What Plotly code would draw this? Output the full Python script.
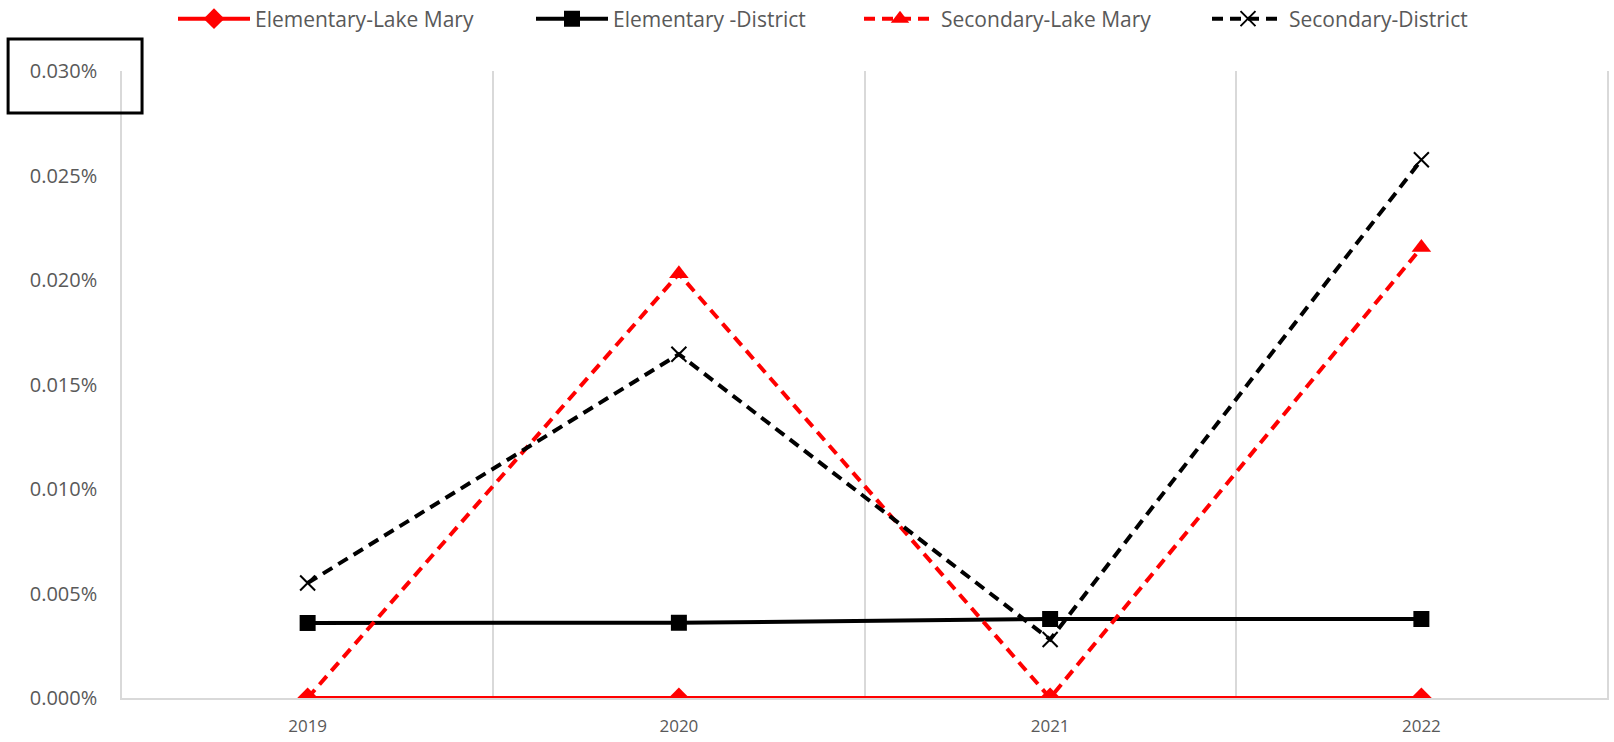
import plotly.graph_objects as go

years = ["2019", "2020", "2021", "2022"]
elem_lake_mary = [0.0, 0.0, 0.0, 0.0]
elem_district = [0.0000359, 0.0000360, 0.0000378, 0.0000378]
sec_lake_mary = [0.0, 0.000203, 0.0, 0.0002155]
sec_district = [0.000055, 0.0001645, 0.000028, 0.0002575]
y_ticks = [0, 0.00005, 0.0001, 0.00015, 0.0002, 0.00025, 0.0003]

RED = "#FF0000"
BLACK = "#000000"
GRID = "#D9D9D9"
TXT = "#595959"
FONT = "Open Sans"

W, H = 1614, 742
legend_px = [173, 531, 859, 1207]

fig = go.Figure()
fig.add_trace(go.Scatter(
    x=years, y=elem_lake_mary, name="Elementary-Lake Mary", mode="lines+markers",
    line=dict(color=RED, width=4), marker=dict(symbol="diamond", size=16, color=RED),
    legend="legend"))
fig.add_trace(go.Scatter(
    x=years, y=elem_district, name="Elementary -District", mode="lines+markers",
    line=dict(color=BLACK, width=4), marker=dict(symbol="square", size=16, color=BLACK),
    legend="legend2"))
fig.add_trace(go.Scatter(
    x=years, y=sec_lake_mary, name="Secondary-Lake Mary", mode="lines+markers",
    line=dict(color=RED, width=4, dash="11px,7px"),
    marker=dict(symbol="triangle-up", size=17, color=RED),
    legend="legend3"))
fig.add_trace(go.Scatter(
    x=years, y=sec_district, name="Secondary-District", mode="lines+markers",
    line=dict(color=BLACK, width=4, dash="11px,7px"),
    marker=dict(symbol="x-thin", size=15, color=BLACK, line=dict(color=BLACK, width=2)),
    legend="legend4"))


def leg(px):
    return dict(
        orientation="h", xref="container", yref="container",
        x=px / W, xanchor="left", y=1 - 19 / H, yanchor="middle",
        font=dict(family=FONT, size=21, color=TXT),
        itemwidth=72, bgcolor="rgba(0,0,0,0)",
    )


fig.update_layout(
    width=W, height=H,
    margin=dict(l=122, r=5, t=71, b=42),
    paper_bgcolor="white", plot_bgcolor="white",
    font=dict(family=FONT, color=TXT),
    showlegend=True,
    legend=leg(legend_px[0]),
    legend2=leg(legend_px[1]),
    legend3=leg(legend_px[2]),
    legend4=leg(legend_px[3]),
    xaxis=dict(
        type="category", range=[-0.5, 3.5],
        tickson="boundaries", showgrid=True, gridcolor=GRID, gridwidth=1.5,
        showline=True, linecolor=GRID, linewidth=1.5,
        ticks="", tickfont=dict(family=FONT, size=17, color=TXT),
        ticklabelstandoff=12, zeroline=False,
    ),
    yaxis=dict(
        range=[0, 0.0003], tickvals=y_ticks, tickformat=".3%",
        showgrid=False, zeroline=False,
        showline=True, mirror=True, linecolor=GRID, linewidth=1.5,
        ticks="", ticklabelstandoff=19,
        tickfont=dict(family=FONT, size=20, color=TXT),
    ),
    shapes=[dict(
        type="rect", xref="paper", yref="paper",
        x0=-0.0767, x1=0.0135, y0=0.933, y1=1.051,
        line=dict(color=BLACK, width=3), fillcolor="rgba(0,0,0,0)",
    )],
)

fig.write_html(
    "out.html",
    config={"displayModeBar": False},
    post_script="document.body.style.margin='0';",
)
